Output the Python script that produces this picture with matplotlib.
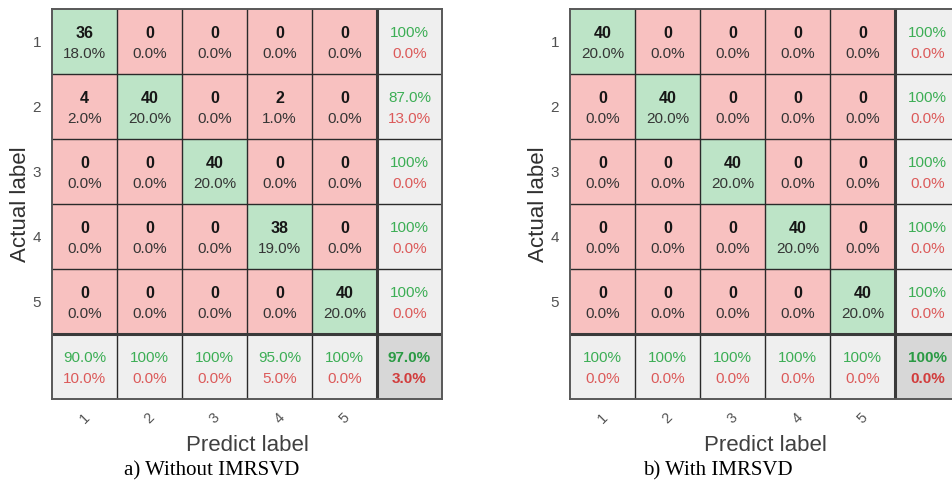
import numpy as np
import matplotlib
matplotlib.use('Agg')
import matplotlib.pyplot as plt

plt.rcParams['font.family'] = ['Liberation Sans', 'DejaVu Sans']

# Confusion matrices (rows: actual, columns: predicted)
class_labels = ['1', '2', '3', '4', '5']
cm_without = [[36, 0, 0, 0, 0],
              [4, 40, 0, 2, 0],
              [0, 0, 40, 0, 0],
              [0, 0, 0, 38, 0],
              [0, 0, 0, 0, 40]]
cm_with = [[40, 0, 0, 0, 0],
           [0, 40, 0, 0, 0],
           [0, 0, 40, 0, 0],
           [0, 0, 0, 40, 0],
           [0, 0, 0, 0, 40]]
captions = ['a) Without IMRSVD', 'b) With IMRSVD']

GREEN_BG = (0.745, 0.898, 0.784)
RED_BG = (0.973, 0.757, 0.753)
GRAY_BG = (0.941, 0.941, 0.941)
CORNER_BG = (0.847, 0.847, 0.847)
GREEN_TXT = '#3cae55'
RED_TXT = '#dc5a5a'
GREEN_BOLD = '#2a9a44'
RED_BOLD = '#d23c3c'


def fmt_pct(p):
    if round(p, 1) == 100:
        return '100%'
    return f'{p:.1f}%'


def draw_confusion(ax, cm):
    cm = np.array(cm)
    n = cm.shape[0]
    total = cm.sum()

    # cell background colours
    img = np.zeros((n + 1, n + 1, 3))
    for i in range(n + 1):
        for j in range(n + 1):
            if i == n and j == n:
                img[i, j] = CORNER_BG
            elif i == n or j == n:
                img[i, j] = GRAY_BG
            elif i == j:
                img[i, j] = GREEN_BG
            else:
                img[i, j] = RED_BG
    ax.imshow(img, extent=(0, n + 1, n + 1, 0), aspect='auto',
              interpolation='nearest')

    top, bot = 0.37, 0.69
    for i in range(n):
        for j in range(n):
            ax.text(j + 0.5, i + top, str(cm[i, j]), ha='center', va='center',
                    fontsize=11.5, fontweight='bold', color='#161616')
            ax.text(j + 0.5, i + bot, f'{100 * cm[i, j] / total:.1f}%',
                    ha='center', va='center', fontsize=11, color='#353535')

    # per-row summary (right column)
    for i in range(n):
        acc = 100 * cm[i, i] / cm[i].sum()
        ax.text(n + 0.5, i + top, fmt_pct(acc), ha='center', va='center',
                fontsize=11, color=GREEN_TXT)
        ax.text(n + 0.5, i + bot, fmt_pct(100 - acc), ha='center',
                va='center', fontsize=11, color=RED_TXT)

    # per-column summary (bottom row)
    for j in range(n):
        acc = 100 * cm[j, j] / cm[:, j].sum()
        ax.text(j + 0.5, n + top, fmt_pct(acc), ha='center', va='center',
                fontsize=11, color=GREEN_TXT)
        ax.text(j + 0.5, n + bot, fmt_pct(100 - acc), ha='center',
                va='center', fontsize=11, color=RED_TXT)

    overall = 100 * np.trace(cm) / total
    ax.text(n + 0.5, n + top, fmt_pct(overall), ha='center', va='center',
            fontsize=11, fontweight='bold', color=GREEN_BOLD)
    ax.text(n + 0.5, n + bot, fmt_pct(100 - overall), ha='center',
            va='center', fontsize=11, fontweight='bold', color=RED_BOLD)

    # grid lines
    for k in range(1, n):
        ax.axhline(k, color='#2a2a2a', lw=1.0)
        ax.axvline(k, color='#2a2a2a', lw=1.0)
    ax.axhline(n, color='#3a3a3a', lw=2.2)
    ax.axvline(n, color='#3a3a3a', lw=2.2)

    ax.set_xlim(0, n + 1)
    ax.set_ylim(n + 1, 0)
    for s in ax.spines.values():
        s.set_color('#585858')
        s.set_linewidth(1.4)

    ax.set_xticks(np.arange(n) + 0.5)
    ax.set_xticklabels(class_labels, rotation=45, color='#555555', fontsize=10.5)
    ax.set_yticks(np.arange(n) + 0.5)
    ax.set_yticklabels(class_labels, color='#505050', fontsize=11)
    ax.tick_params(axis='x', length=0, pad=8)
    ax.tick_params(axis='y', length=0, pad=8)
    ax.set_xlabel('Predict label', fontsize=16, color='#404040', labelpad=7)
    ax.set_ylabel('Actual label', fontsize=16, color='#303030', labelpad=1)


W, H = 952, 484
fig = plt.figure(figsize=(W / 100, H / 100), dpi=100)

ax_a = fig.add_axes([52 / W, (H - 399) / H, 390 / W, 390 / H])
ax_b = fig.add_axes([570 / W, (H - 399) / H, 390 / W, 390 / H])
draw_confusion(ax_a, cm_without)
draw_confusion(ax_b, cm_with)

fig.text(212 / W, 1 - 471 / H, captions[0], ha='center', va='center',
         fontsize=15, family='Liberation Serif', color='black')
fig.text(718 / W, 1 - 471 / H, captions[1], ha='center', va='center',
         fontsize=15, family='Liberation Serif', color='black')

fig.savefig('out.png', dpi=100)
